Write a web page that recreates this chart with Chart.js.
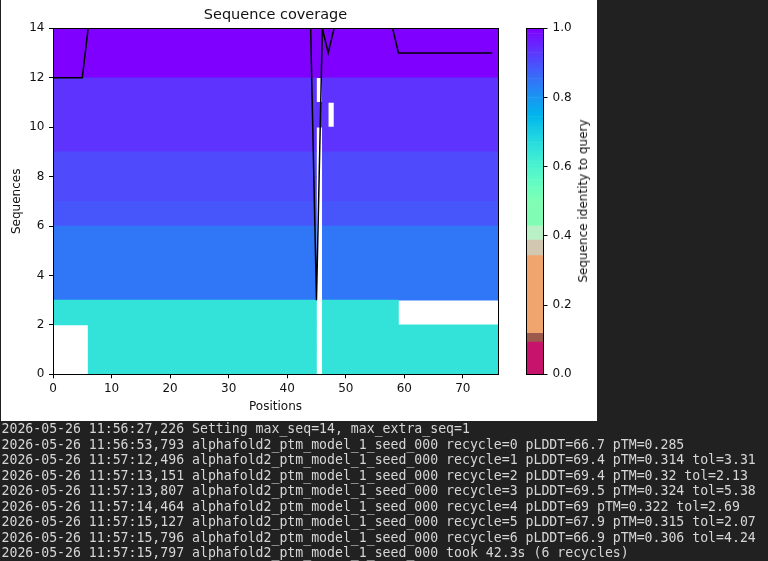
<!DOCTYPE html>
<html><head><meta charset="utf-8">
<script src="https://cdn.jsdelivr.net/npm/chart.js@4.4.1/dist/chart.umd.min.js"></script>
<style>
html,body{margin:0;padding:0;background:#212121;width:768px;height:561px;overflow:hidden;}
#fig{position:absolute;left:1px;top:0;width:596px;height:421px;background:#fff;}
#main{position:absolute;left:0;top:0;width:515px;height:422px;}
#cbar{position:absolute;left:515px;top:0;width:83px;height:422px;}
#cblabel{position:absolute;left:582.5px;top:201.3px;transform:translate(-50%,-50%) rotate(-90deg);font:12px 'DejaVu Sans';color:#111;white-space:nowrap;}
#log{position:absolute;left:1.5px;top:421px;margin:0;font:13.2px/15.5px 'DejaVu Sans Mono';color:#d6d6d6;white-space:pre;}
</style></head><body>
<div id="fig"></div>
<canvas id="main" width="515" height="422"></canvas>
<canvas id="cbar" width="83" height="422"></canvas>
<div id="cblabel">Sequence identity to query</div>
<pre id="log">2026-05-26 11:56:27,226 Setting max_seq=14, max_extra_seq=1
2026-05-26 11:56:53,793 alphafold2_ptm_model_1_seed_000 recycle=0 pLDDT=66.7 pTM=0.285
2026-05-26 11:57:12,496 alphafold2_ptm_model_1_seed_000 recycle=1 pLDDT=69.4 pTM=0.314 tol=3.31
2026-05-26 11:57:13,151 alphafold2_ptm_model_1_seed_000 recycle=2 pLDDT=69.4 pTM=0.32 tol=2.13
2026-05-26 11:57:13,807 alphafold2_ptm_model_1_seed_000 recycle=3 pLDDT=69.5 pTM=0.324 tol=5.38
2026-05-26 11:57:14,464 alphafold2_ptm_model_1_seed_000 recycle=4 pLDDT=69 pTM=0.322 tol=2.69
2026-05-26 11:57:15,127 alphafold2_ptm_model_1_seed_000 recycle=5 pLDDT=67.9 pTM=0.315 tol=2.07
2026-05-26 11:57:15,796 alphafold2_ptm_model_1_seed_000 recycle=6 pLDDT=66.9 pTM=0.306 tol=4.24
2026-05-26 11:57:15,797 alphafold2_ptm_model_1_seed_000 took 42.3s (6 recycles)</pre>
<script>
// ---- data ----
const seqLength = 76;   // positions
const seqCount = 14;    // sequences (rows)
// sequence identity to query, one per row (row 0 at bottom)
const rowIdentity = [0.65, 0.65, 0.65, 0.845, 0.845, 0.845, 0.89, 0.905, 0.905, 0.936, 0.936, 0.936, 1.0, 1.0];
// covered (non-gap) position ranges [start, end) for each row
const rowSegments = [
  [[6, 45], [46, 76]],
  [[6, 45], [46, 76]],
  [[0, 45], [46, 59]],
  [[0, 45], [46, 76]],
  [[0, 45], [46, 76]],
  [[0, 45], [46, 76]],
  [[0, 45], [46, 76]],
  [[0, 45], [46, 76]],
  [[0, 45], [46, 76]],
  [[0, 45], [46, 76]],
  [[0, 47], [48, 76]],
  [[0, 45], [46, 76]],
  [[0, 76]],
  [[0, 76]]
];
// number of non-gap sequences at each position
const coverage = [
  12, 12, 12, 12, 12, 12, 14, 14, 14, 14,
  14, 14, 14, 14, 14, 14, 14, 14, 14, 14,
  14, 14, 14, 14, 14, 14, 14, 14, 14, 14,
  14, 14, 14, 14, 14, 14, 14, 14, 14, 14,
  14, 14, 14, 14, 14, 3, 14, 13, 14, 14,
  14, 14, 14, 14, 14, 14, 14, 14, 14, 13,
  13, 13, 13, 13, 13, 13, 13, 13, 13, 13,
  13, 13, 13, 13, 13, 13
];
const xTickStep = 10;
const yTickStep = 2;
const cbarTickStep = 0.2;
// lower part of colour bar (custom colours)
const cbarLow = [
  [0.000, 0.095, '#c8136c'],
  [0.095, 0.120, '#9c5a4c'],
  [0.120, 0.345, '#f0a46e'],
  [0.345, 0.390, '#d2c8b2'],
  [0.390, 0.430, '#b9f0c6'],
  [0.430, 0.500, '#80fcb4']
];

// ---- style helpers ----
function rainbowR(v) {
  const x = 1 - v;
  const cl = t => Math.max(0, Math.min(1, t));
  const r = cl(Math.abs(2 * x - 0.5));
  const g = cl(Math.sin(Math.PI * x));
  const b = cl(Math.cos(Math.PI * x / 2));
  return 'rgb(' + Math.round(r * 255) + ',' + Math.round(g * 255) + ',' + Math.round(b * 255) + ')';
}

Chart.defaults.font.family = "'DejaVu Sans'";
Chart.defaults.color = '#111';

const frame = {
  id: 'frame',
  afterDatasetsDraw(chart) {
    const {ctx, chartArea: a} = chart;
    ctx.save();
    ctx.strokeStyle = '#000';
    ctx.lineWidth = 1;
    const l = Math.floor(a.left) + 0.5, t = Math.floor(a.top) + 0.5;
    const r = Math.floor(a.right) + 0.5, b = Math.floor(a.bottom) + 0.5;
    ctx.strokeRect(l, t, r - l, b - t);
    ctx.restore();
  }
};

const rowDatasets = rowSegments.map((segs, r) => ({
  type: 'bar',
  label: 'Sequence ' + r,
  indexAxis: 'y',
  grouped: false,
  data: segs.map(s => ({y: r + 0.5, x: s})),
  backgroundColor: rainbowR(rowIdentity[r]),
  borderWidth: 0,
  barPercentage: 1,
  categoryPercentage: 1,
  order: 2
}));

const lineDataset = {
  type: 'line',
  label: 'Coverage',
  indexAxis: 'x',
  data: coverage.map((c, i) => ({x: i, y: c})),
  borderColor: '#000',
  borderWidth: 1.5,
  pointRadius: 0,
  fill: false,
  tension: 0,
  order: 1
};

const tickFont = {size: 12};
new Chart(document.getElementById('main'), {
  type: 'bar',
  data: {datasets: [...rowDatasets, lineDataset]},
  options: {
    responsive: false,
    animation: false,
    layout: {padding: {left: 0, right: 17, top: 0, bottom: 0}},
    plugins: {
      legend: {display: false},
      tooltip: {enabled: false},
      title: {
        display: true, text: 'Sequence coverage', fullSize: false,
        font: {size: 14.5, weight: 'normal'}, color: '#111',
        padding: {top: 7, bottom: 3.9}
      }
    },
    scales: {
      x: {
        type: 'linear', min: 0, max: seqLength, offset: false,
        ticks: {stepSize: xTickStep, includeBounds: false, autoSkip: false, maxRotation: 0, font: tickFont, color: '#111', padding: 3.5},
        grid: {display: true, offset: false, drawOnChartArea: false, drawTicks: true, tickLength: 4, color: '#000'},
        border: {display: false},
        title: {display: true, text: 'Positions', font: {size: 12}, color: '#111', padding: {top: 0, bottom: 7.8}},
        afterFit: s => { s.height = 47.7; }
      },
      y: {
        type: 'linear', min: 0, max: seqCount, offset: false,
        ticks: {stepSize: yTickStep, autoSkip: false, font: tickFont, color: '#111', padding: 4.5},
        grid: {display: true, offset: false, drawOnChartArea: false, drawTicks: true, tickLength: 4, color: '#000'},
        border: {display: false},
        title: {display: true, text: 'Sequences', font: {size: 12}, color: '#111', padding: {top: 10, bottom: 0}},
        afterFit: s => { s.width = 53; }
      }
    }
  },
  plugins: [frame]
});

// colour bar segments
const cbarSegs = cbarLow.slice();
for (let k = 0; k < 100; k++) {
  const lo = 0.5 + k * 0.005, hi = lo + 0.005;
  cbarSegs.push([lo, hi, rainbowR(lo + 0.0025)]);
}
new Chart(document.getElementById('cbar'), {
  type: 'bar',
  data: {
    labels: ['cb'],
    datasets: [{
      data: cbarSegs.map(s => ({x: 'cb', y: [s[0], s[1]]})),
      backgroundColor: cbarSegs.map(s => s[2]),
      borderWidth: 0, barPercentage: 1, categoryPercentage: 1
    }]
  },
  options: {
    responsive: false,
    animation: false,
    layout: {padding: {left: 11.5, top: 28.3, bottom: 47.7, right: 0}},
    plugins: {legend: {display: false}, tooltip: {enabled: false}},
    scales: {
      x: {display: false},
      y: {
        position: 'right', min: 0, max: 1,
        ticks: {stepSize: cbarTickStep, callback: v => Number(v).toFixed(1), font: tickFont, color: '#111', padding: 5},
        grid: {display: true, drawOnChartArea: false, drawTicks: true, tickLength: 4, color: '#000'},
        border: {display: false},
        afterFit: s => { s.width = 54.5; }
      }
    }
  },
  plugins: [frame]
});
</script>
</body></html>
